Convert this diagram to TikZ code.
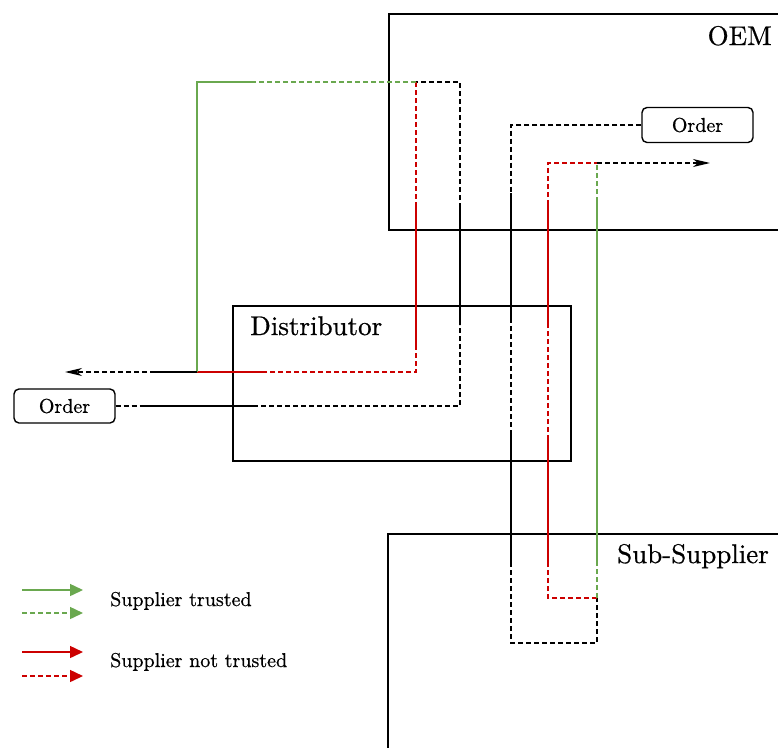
\documentclass[tikz,border=0pt]{standalone}
\usepackage{fontspec}
\setmainfont{lmroman10-regular.otf}[FakeBold=0.6]
\usetikzlibrary{arrows.meta}
\definecolor{trustgreen}{HTML}{6AA84F}
\definecolor{untrustred}{HTML}{CC0000}
\begin{document}
\begin{tikzpicture}[x=1pt,y=-1pt,
  orgbox/.style={draw, line width=1.6pt, anchor=north west, inner sep=0pt},
  orglabel/.style={font=\fontsize{27}{32}\selectfont, inner sep=0pt},
  ordernode/.style={draw, line width=1.4pt, rounded corners=5pt,
    font=\fontsize{20}{24}\selectfont, inner sep=0pt},
  smalltext/.style={font=\fontsize{20}{24}\selectfont, inner sep=0pt},
  flow/.style={line width=1.3pt},
  dsh/.style={dash pattern=on 5pt off 3pt},
  flowtip/.style={-{Stealth[length=17pt,width=8pt,inset=5pt]}},
  legendtip/.style={line width=1.5pt,-{Triangle[length=13pt,width=12pt]}}
]
\useasboundingbox (0,0) rectangle (778,747);

% organisation boxes (open towards the right and bottom edge)
\node[orgbox, minimum width=430pt, minimum height=216pt] (oem) at (388,13) {};
\node[orgbox, minimum width=338pt, minimum height=155pt] (dist) at (232,305) {};
\node[orgbox, minimum width=430pt, minimum height=240pt] (sub) at (387,533) {};
\node[orglabel, anchor=base east] (oemlabel) at (772,45) {OEM};
\node[orglabel, anchor=base west] (distlabel) at (250,335) {Distributor};
\node[orglabel, anchor=base west] (sublabel) at (617,563) {Sub-Supplier};

% order nodes
\node[ordernode, minimum width=111pt, minimum height=35pt] (orderA) at (697.5,125) {Order};
\node[ordernode, minimum width=101pt, minimum height=34pt] (orderD) at (64.5,406) {Order};

% waypoints: order issued by the OEM
\coordinate (kr1) at (511,125);
\coordinate (kr2) at (511,193);
\coordinate (kr3) at (511,318);
\coordinate (kr4) at (511,433);
\coordinate (kr5) at (511,562);
\coordinate (kr6) at (511,643);
\coordinate (kr7) at (597,643);
\coordinate (joinS) at (597,598);
\coordinate (rr1) at (548,598);
\coordinate (rr2) at (548,562);
\coordinate (rr3) at (548,440);
\coordinate (rr4) at (548,323);
\coordinate (rr5) at (548,205);
\coordinate (rr6) at (548,163);
\coordinate (joinO) at (597,163);
\coordinate (gr1) at (597,562);
\coordinate (gr2) at (597,202);
\coordinate (outO) at (710,163);

% waypoints: order issued by the distributor
\coordinate (kl1) at (143,406);
\coordinate (kl2) at (253,406);
\coordinate (kl3) at (460,406);
\coordinate (kl4) at (460,325);
\coordinate (kl5) at (460,208);
\coordinate (kl6) at (460,82);
\coordinate (joinT) at (416,82);
\coordinate (rl1) at (416,205);
\coordinate (rl2) at (416,345);
\coordinate (rl3) at (416,372);
\coordinate (rl4) at (263,372);
\coordinate (joinD) at (197,372);
\coordinate (gl1) at (255,82);
\coordinate (gl2) at (197,82);
\coordinate (al1) at (155,372);
\coordinate (outD) at (65,372);

% OEM order travelling down to the sub-supplier
\draw[flow,dsh] (orderA.west) -- (kr1) -- (kr2);
\draw[flow] (kr2) -- (kr3);
\draw[flow,dsh] (kr3) -- (kr4);
\draw[flow] (kr4) -- (kr5);
\draw[flow,dsh] (kr5) -- (kr6) -- (kr7) -- (joinS);

% response: not trusted branch
\draw[flow,dsh,untrustred] (joinS) -- (rr1) -- (rr2);
\draw[flow,untrustred] (rr2) -- (rr3);
\draw[flow,dsh,untrustred] (rr3) -- (rr4);
\draw[flow,untrustred] (rr4) -- (rr5);
\draw[flow,dsh,untrustred] (rr5) -- (rr6) -- (joinO);

% response: trusted branch
\draw[flow,dsh,trustgreen] (joinS) -- (gr1);
\draw[flow,trustgreen] (gr1) -- (gr2);
\draw[flow,dsh,trustgreen] (gr2) -- (joinO);

\draw[flow,dsh,flowtip] (joinO) -- (outO);

% distributor order travelling up to the OEM
\draw[flow,dsh] (orderD.east) -- (kl1);
\draw[flow] (kl1) -- (kl2);
\draw[flow,dsh] (kl2) -- (kl3) -- (kl4);
\draw[flow] (kl4) -- (kl5);
\draw[flow,dsh] (kl5) -- (kl6) -- (joinT);

% response: not trusted branch
\draw[flow,dsh,untrustred] (joinT) -- (rl1);
\draw[flow,untrustred] (rl1) -- (rl2);
\draw[flow,dsh,untrustred] (rl2) -- (rl3) -- (rl4);
\draw[flow,untrustred] (rl4) -- (joinD);

% response: trusted branch
\draw[flow,dsh,trustgreen] (joinT) -- (gl1);
\draw[flow,trustgreen] (gl1) -- (gl2) -- (joinD);

\draw[flow] (joinD) -- (al1);
\draw[flow,dsh,flowtip] (al1) -- (outD);

% legend
\coordinate (lg1a) at (22,590);  \coordinate (lg1b) at (83,590);
\coordinate (lg2a) at (22,613);  \coordinate (lg2b) at (83,613);
\coordinate (lg3a) at (22,652);  \coordinate (lg3b) at (83,652);
\coordinate (lg4a) at (22,676);  \coordinate (lg4b) at (83,676);
\draw[legendtip,trustgreen] (lg1a) -- (lg1b);
\draw[legendtip,trustgreen,dsh] (lg2a) -- (lg2b);
\draw[legendtip,untrustred] (lg3a) -- (lg3b);
\draw[legendtip,untrustred,dsh] (lg4a) -- (lg4b);
\node[smalltext, anchor=base west] (legtrust) at (110,606) {Supplier trusted};
\node[smalltext, anchor=base west] (legnotrust) at (110,667) {Supplier not trusted};
\end{tikzpicture}
\end{document}
